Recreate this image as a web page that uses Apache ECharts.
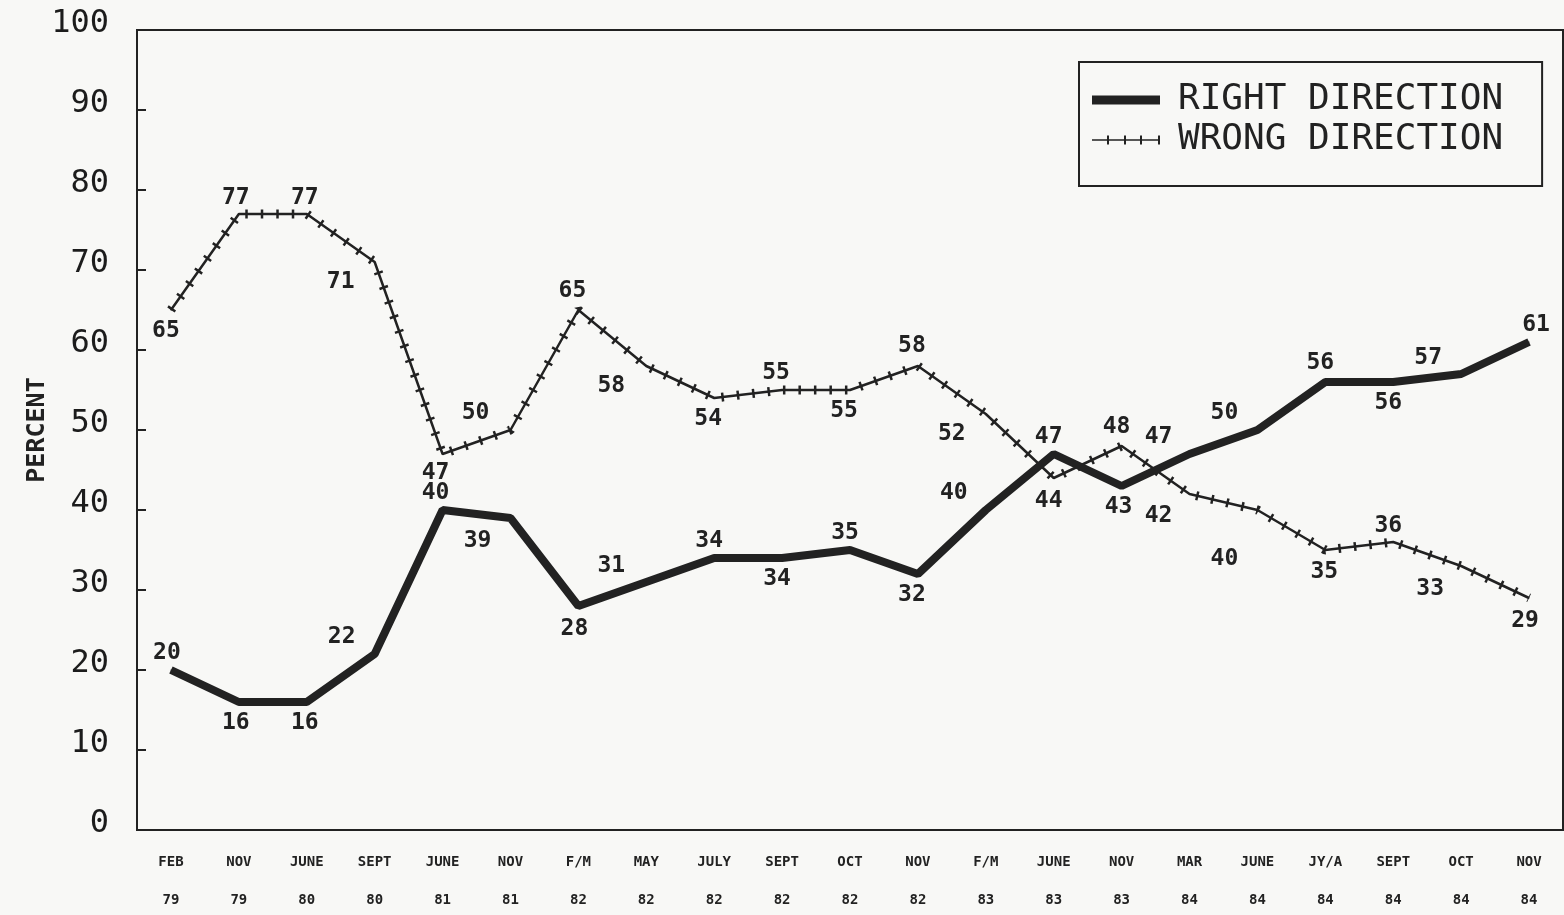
<!DOCTYPE html>
<html>
<head>
<meta charset="utf-8">
<script src="https://cdn.jsdelivr.net/npm/echarts@6/dist/echarts.min.js"></script>
<style>
  html, body { margin: 0; padding: 0; background: #f8f8f6; }
  #chart { width: 1564px; height: 915px; }
</style>
</head>
<body>
<div id="chart"></div>
<script>
// 月份 / 年份 两行刻度
const months = ["FEB", "NOV", "JUNE", "SEPT", "JUNE", "NOV", "F/M", "MAY", "JULY", "SEPT", "OCT",
  "NOV", "F/M", "JUNE", "NOV", "MAR", "JUNE", "JY/A", "SEPT", "OCT", "NOV"];
const years = ["79", "79", "80", "80", "81", "81", "82", "82", "82", "82", "82",
  "82", "83", "83", "83", "84", "84", "84", "84", "84", "84"];

const rightDirection = [20, 16, 16, 22, 40, 39, 28, 31, 34, 34, 35, 32, 40, 47, 43, 47, 50, 56, 56, 57, 61];
const wrongDirection = [65, 77, 77, 71, 47, 50, 65, 58, 54, 55, 55, 58, 52, 44, 48, 42, 40, 35, 36, 33, 29];

// 数值标签相对于点的偏移 (px)
const rightLabelOffset = [[-4, -17], [-3, 21], [-2, 21], [-33, -17], [-7, -17], [-33, 23], [-4, 23], [-35, -16],
  [-5, -17], [-5, 21], [-5, -17], [-6, 21], [-32, -17], [-5, -17], [-3, 21], [-31, -17], [-33, -17],
  [-5, -19], [-5, 21], [-33, -16], [7, -17]];
const wrongLabelOffset = [[-5, 21], [-3, -16], [-2, -16], [-34, 20], [-7, 19], [-35, -17], [-6, -19], [-35, 20],
  [-6, 21], [-6, -17], [-6, 21], [-6, -20], [-34, 20], [-5, 23], [-5, -19], [-31, 22], [-33, 49],
  [-1, 22], [-5, -16], [-31, 23], [-4, 23]];

const ink = "#222";
const mono = "DejaVu Sans Mono";

let myChart = echarts.init(document.getElementById("chart"));
myChart.setOption({
  animation: false,
  backgroundColor: "#f8f8f6",
  grid: {
    left: 137,
    right: 1,
    top: 30,
    bottom: 85,
    outerBoundsMode: "none",
    show: true,
    borderColor: ink,
    borderWidth: 2,
  },
  legend: {
    orient: "vertical",
    left: 1079,
    top: 62,
    padding: [20, 39, 28, 13],
    itemWidth: 68,
    itemHeight: 9,
    itemGap: 4,
    borderColor: ink,
    borderWidth: 2,
    selectedMode: false,
    textStyle: {
      fontFamily: mono,
      fontSize: 36,
      lineHeight: 36,
      color: ink,
      padding: [0, 0, 0, 13],
    },
    data: [
      { name: "RIGHT DIRECTION", icon: "rect" },
      {
        name: "WRONG DIRECTION",
        // 细线 + 刻痕
        icon: "path://M0,3.7L68,3.7L68,5.3L0,5.3Z M15,0L17,0L17,9L15,9Z M32,0L34,0L34,9L32,9Z M48,0L50,0L50,9L48,9Z M66,0L68,0L68,9L66,9Z",
      },
    ],
  },
  xAxis: {
    type: "category",
    data: months,
    boundaryGap: true,
    axisLine: { lineStyle: { color: ink, width: 2 } },
    axisTick: {
      inside: true,
      alignWithLabel: true,
      length: 15,
      lineStyle: { color: ink, width: 2 },
    },
    axisLabel: {
      interval: 0,
      margin: 13,
      fontFamily: mono,
      fontWeight: "bold",
      fontSize: 14,
      lineHeight: 38,
      color: ink,
      formatter: (v, i) => v + "\n" + years[i],
    },
  },
  yAxis: {
    type: "value",
    min: 0,
    max: 100,
    interval: 10,
    name: "PERCENT",
    nameLocation: "middle",
    nameRotate: 90,
    nameGap: 87,
    nameMoveOverlap: false,
    nameTextStyle: { fontFamily: mono, fontSize: 25, fontWeight: "bold", color: ink },
    splitLine: { show: false },
    axisLine: { show: true, lineStyle: { color: ink, width: 2 } },
    axisTick: { show: true, inside: true, length: 9, lineStyle: { color: ink, width: 2 } },
    axisLabel: {
      margin: 28,
      fontFamily: mono,
      fontSize: 32,
      color: "#1c1c1c",
      verticalAlign: "bottom",
      lineHeight: 13,
    },
  },
  series: [
    {
      name: "RIGHT DIRECTION",
      type: "line",
      data: rightDirection.map((v, i) => ({ value: v, label: { offset: rightLabelOffset[i] } })),
      symbol: "circle",
      symbolSize: 1,
      itemStyle: { color: ink },
      lineStyle: { color: ink, width: 8 },
      label: {
        show: true,
        position: "inside",
        fontFamily: mono,
        fontWeight: "bold",
        fontSize: 23,
        color: ink,
      },
      z: 3,
    },
    {
      name: "WRONG DIRECTION",
      type: "line",
      data: wrongDirection.map((v, i) => ({ value: v, label: { offset: wrongLabelOffset[i] } })),
      symbol: "circle",
      symbolSize: 1,
      itemStyle: { color: ink },
      lineStyle: { color: ink, width: 2.5 },
      label: {
        show: true,
        position: "inside",
        fontFamily: mono,
        fontWeight: "bold",
        fontSize: 23,
        color: ink,
      },
      z: 2,
    },
    {
      // 刻痕：用宽虚线模拟
      name: "wrong-ticks",
      type: "line",
      data: wrongDirection,
      symbol: "none",
      silent: true,
      lineStyle: { color: ink, width: 9, type: [2.5, 13] },
      z: 2,
    },
  ],
});
</script>
</body>
</html>
